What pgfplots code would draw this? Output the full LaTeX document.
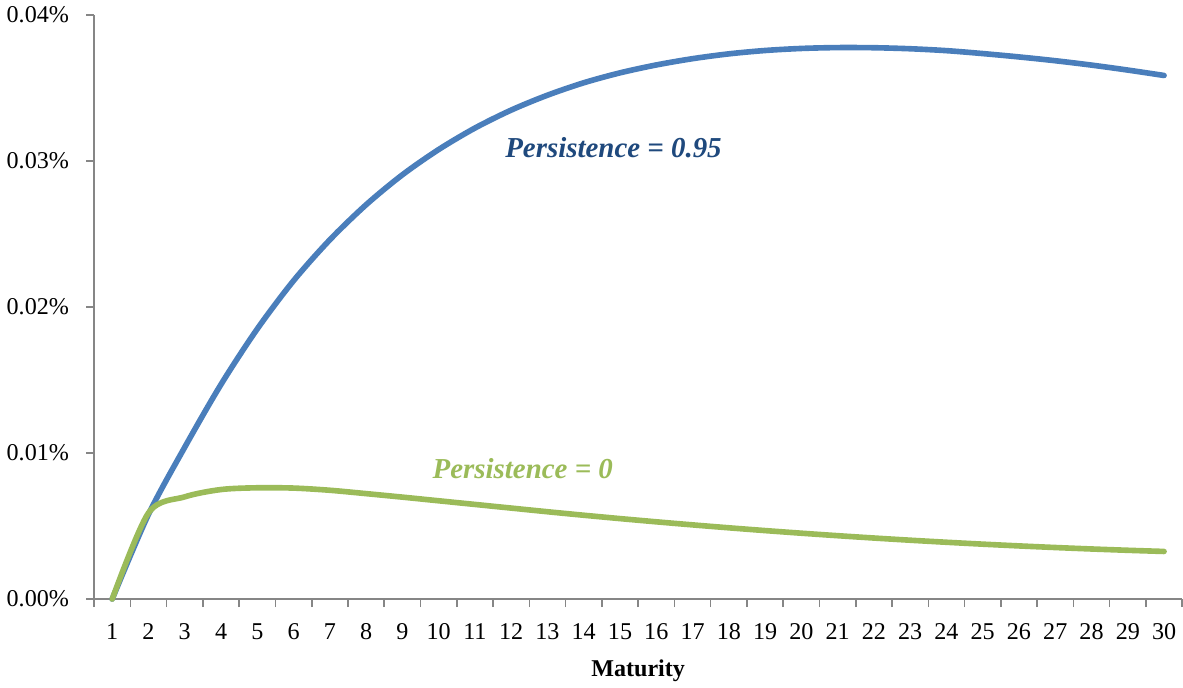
\documentclass[border=0pt]{standalone}
\usepackage{pgfplots}
\pgfplotsset{compat=1.18}
\usepackage{fontspec}
\setmainfont{Liberation Serif}

\definecolor{serblue}{HTML}{4A7EBB}
\definecolor{sergreen}{HTML}{9BBB59}
\definecolor{lblblue}{HTML}{1F497D}
\definecolor{axgray}{HTML}{868686}

\begin{document}
\begin{tikzpicture}
\begin{axis}[
    scale only axis,
    width=542pt, height=291pt,
    xmin=0.5, xmax=30.5,
    ymin=0, ymax=0.04,
    scaled y ticks=false,
    axis x line*=bottom,
    axis y line*=left,
    axis line style={draw=axgray, line width=0.8pt},
    xtick={1,...,30},
    major x tick style={draw=none},
    minor xtick={0.5,1.5,...,30.5},
    minor tick length=4pt,
    minor x tick style={draw=axgray, line width=0.8pt},
    ytick={0,0.01,0.02,0.03,0.04},
    yticklabels={0.00\%,0.01\%,0.02\%,0.03\%,0.04\%},
    major tick length=4pt,
    y tick style={draw=axgray, line width=0.8pt},
    tick align=outside,
    tick label style={font=\fontsize{12}{14}\selectfont},
    /pgf/number format/assume math mode=true,
    yticklabel style={xshift=-5pt},
    xticklabel style={yshift=-4.5pt},
    xlabel={\textbf{Maturity}},
    xlabel style={font=\fontsize{12}{14}\selectfont, yshift=-3pt},
    clip=false,
]
% Persistence = 0.95
\addplot[serblue, line width=2.8pt, line cap=round, smooth, tension=0.5] coordinates {
 (1,0) (2,0.00580) (3,0.01040) (4,0.01470) (5,0.01850) (6,0.02180)
 (7,0.02460) (8,0.02700) (9,0.02905) (10,0.03078) (11,0.03225)
 (12,0.03348) (13,0.03450) (14,0.03535) (15,0.03603) (16,0.03657)
 (17,0.03700) (18,0.03733) (19,0.03756) (20,0.03770) (21,0.03776)
 (22,0.03775) (23,0.03768) (24,0.03755) (25,0.03735) (26,0.03712)
 (27,0.03686) (28,0.03656) (29,0.03622) (30,0.03585)
};
% Persistence = 0
\addplot[sergreen, line width=2.8pt, line cap=round, smooth, tension=0.5] coordinates {
 (1,0) (2,0.00590) (3,0.00700) (4,0.00750) (5,0.00762) (6,0.00760)
 (7,0.00745) (8,0.00722) (9,0.00698) (10,0.00673) (11,0.00648)
 (12,0.00623) (13,0.00598) (14,0.00574) (15,0.00551) (16,0.00529)
 (17,0.00508) (18,0.00488) (19,0.00469) (20,0.00451) (21,0.00434)
 (22,0.00418) (23,0.00403) (24,0.00389) (25,0.00376) (26,0.00364)
 (27,0.00353) (28,0.00343) (29,0.00334) (30,0.00326)
};
\node[text=lblblue, font=\fontsize{14.4}{16}\selectfont\bfseries\itshape] at (axis cs:14.82,0.0309) {Persistence = 0.95};
\node[text=sergreen, font=\fontsize{14.4}{16}\selectfont\bfseries\itshape] at (axis cs:12.32,0.0089) {Persistence = 0};
\end{axis}
\end{tikzpicture}
\end{document}
